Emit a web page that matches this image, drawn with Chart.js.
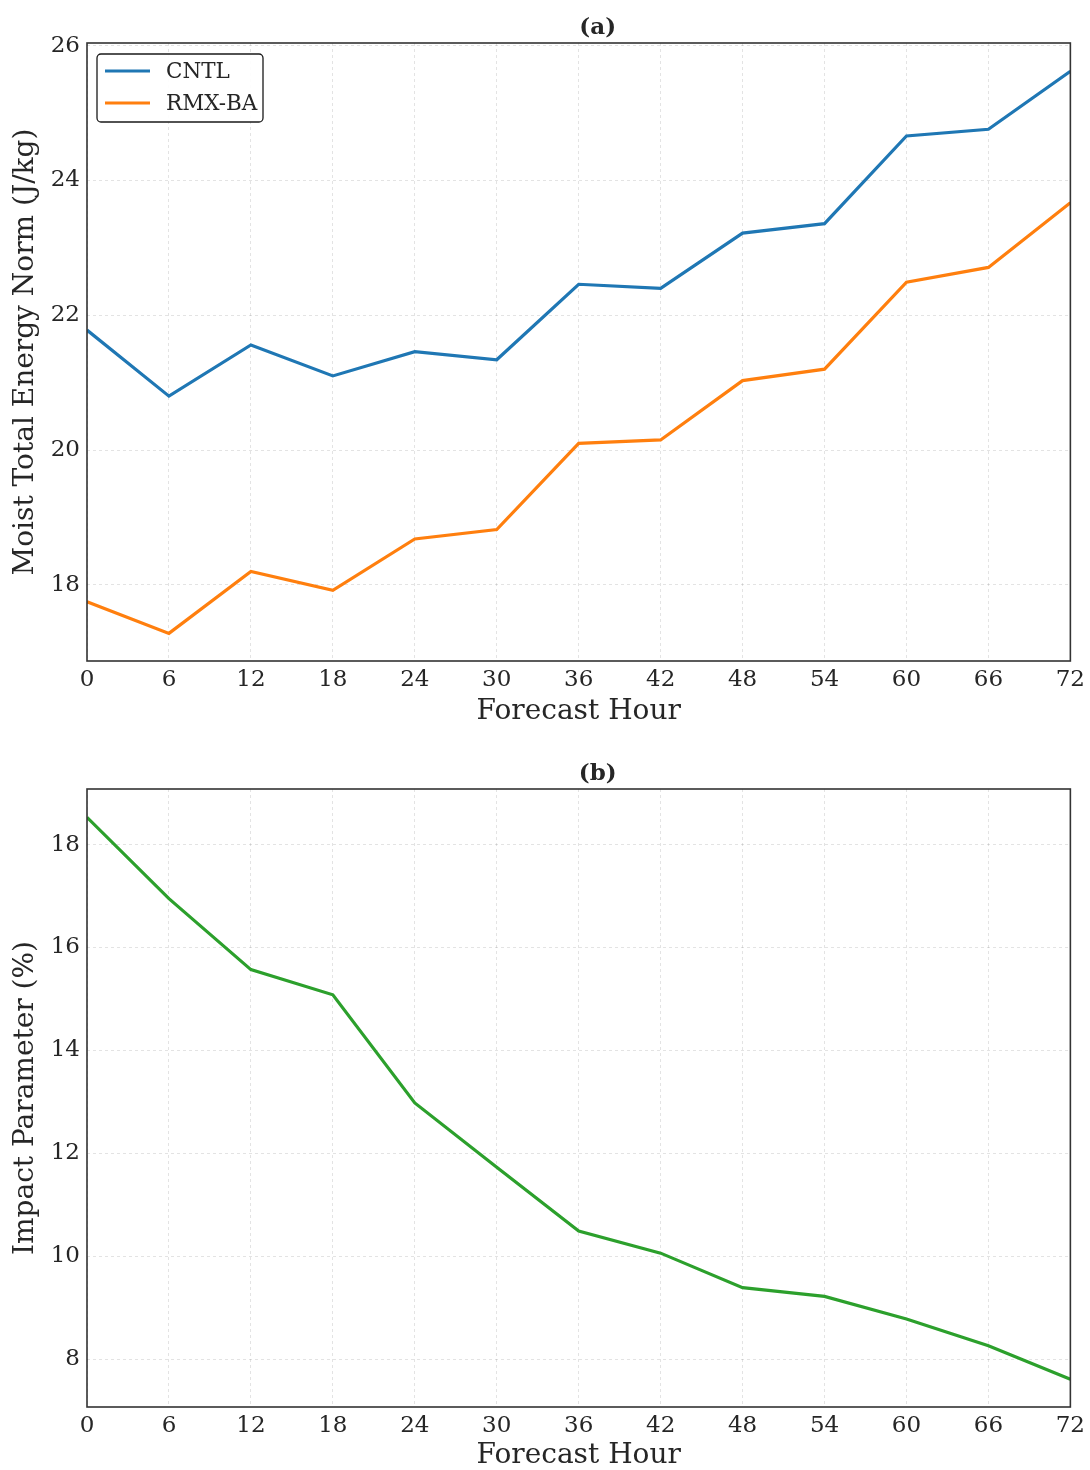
<!DOCTYPE html>
<html>
<head>
<meta charset="utf-8">
<script src="https://cdn.jsdelivr.net/npm/chart.js@4/dist/chart.umd.min.js"></script>
<style>
  html, body { margin: 0; padding: 0; background: #fff; overflow: hidden; }
  .wrap { position: absolute; left: 0; width: 1090px; }
  canvas { display: block; }
</style>
</head>
<body>
<div class="wrap" style="top:0;height:735px"><canvas id="ca" width="1090" height="735"></canvas></div>
<div class="wrap" style="top:735px;height:735px"><canvas id="cb" width="1090" height="735"></canvas></div>
<script>
// ---- data ----
const hours = [0, 6, 12, 18, 24, 30, 36, 42, 48, 54, 60, 66, 72];
const cntl = [21.78, 20.80, 21.56, 21.10, 21.46, 21.34, 22.46, 22.40, 23.22, 23.36, 24.66, 24.76, 25.62];
const rmxba = [17.75, 17.28, 18.20, 17.92, 18.68, 18.82, 20.10, 20.15, 21.03, 21.20, 22.49, 22.71, 23.67];
const impact = [18.53, 16.95, 15.57, 15.08, 12.98, 11.73, 10.49, 10.06, 9.39, 9.22, 8.78, 8.26, 7.61];
const seriesNames = ['CNTL', 'RMX-BA', 'Impact'];
const panelTitles = ['(a)', '(b)'];
const xTitle = 'Forecast Hour';
const yTitles = ['Moist Total Energy Norm (J/kg)', 'Impact Parameter (%)'];

const FONT = "'DejaVu Serif', 'Liberation Serif', serif";
const TXT = '#262626';

function pts(vals) { return hours.map((h, i) => ({ x: h, y: vals[i] })); }

const framePlugin = {
  id: 'frame',
  afterDraw(chart, args, opts) {
    const { ctx, chartArea: a } = chart;
    ctx.save();
    // axes box
    ctx.strokeStyle = '#333333';
    ctx.lineWidth = 1.6;
    ctx.strokeRect(a.left, a.top, a.right - a.left, a.bottom - a.top);
    // panel title
    ctx.fillStyle = TXT;
    ctx.font = "bold 23px " + FONT;
    ctx.textAlign = 'center';
    ctx.textBaseline = 'middle';
    ctx.fillText(opts.title, (a.left + a.right) / 2 + 19, a.top - 15);
    // legend
    if (opts.legend) {
      const ds = chart.data.datasets;
      const bx = a.left + 10, by = a.top + 11, bw = 166, bh = 68;
      ctx.beginPath();
      ctx.roundRect(bx, by, bw, bh, 4);
      ctx.fillStyle = 'rgba(255,255,255,0.9)';
      ctx.fill();
      ctx.strokeStyle = '#1a1a1a';
      ctx.lineWidth = 1.3;
      ctx.stroke();
      ctx.font = "21.5px " + FONT;
      ctx.textAlign = 'left';
      ds.forEach((d, i) => {
        const y = by + 17 + i * 32;
        ctx.strokeStyle = d.borderColor;
        ctx.lineWidth = 3.2;
        ctx.beginPath();
        ctx.moveTo(bx + 8, y);
        ctx.lineTo(bx + 53, y);
        ctx.stroke();
        ctx.fillStyle = TXT;
        ctx.fillText(d.label, bx + 69, y + 1);
      });
    }
    ctx.restore();
  }
};

function makeChart(id, datasets, yMin, yMax, yTitle, title, legend, padTop, padBottom, xHeight) {
  return new Chart(document.getElementById(id), {
    type: 'line',
    data: { datasets },
    options: {
      responsive: false,
      animation: false,
      events: [],
      layout: { padding: { top: padTop, bottom: padBottom, left: 0, right: 19 } },
      plugins: {
        legend: { display: false },
        tooltip: { enabled: false },
        title: { display: false },
        frame: { title, legend }
      },
      elements: { point: { radius: 0 }, line: { tension: 0, borderWidth: 3.2 } },
      scales: {
        x: {
          type: 'linear', min: 0, max: 72,
          border: { display: false, dash: [3, 3] },
          grid: { color: 'rgba(0,0,0,0.11)', lineWidth: 1, drawTicks: false },
          ticks: { stepSize: 6, autoSkip: false, maxRotation: 0, padding: 5,
                   color: TXT, font: { family: FONT, size: 23 } },
          title: { display: true, text: xTitle, color: TXT, padding: 0,
                   font: { family: FONT, size: 28, lineHeight: 1 } },
          afterFit(s) { s.height = xHeight; }
        },
        y: {
          type: 'linear', min: yMin, max: yMax,
          border: { display: false, dash: [3, 3] },
          grid: { color: 'rgba(0,0,0,0.11)', lineWidth: 1, drawTicks: false },
          ticks: { stepSize: 2, includeBounds: false, padding: 7,
                   color: TXT, font: { family: FONT, size: 23 } },
          title: { display: true, text: yTitle, color: TXT, padding: { top: 12, bottom: 0 },
                   font: { family: FONT, size: 28, lineHeight: 1 } },
          afterFit(s) { s.width = 87; }
        }
      }
    },
    plugins: [framePlugin]
  });
}

makeChart('ca', [
  { label: seriesNames[0], data: pts(cntl), borderColor: '#1f77b4', backgroundColor: '#1f77b4' },
  { label: seriesNames[1], data: pts(rmxba), borderColor: '#ff7f0e', backgroundColor: '#ff7f0e' }
], 16.87, 26.04, yTitles[0], panelTitles[0], true, 43, 9, 65);

makeChart('cb', [
  { label: seriesNames[2], data: pts(impact), borderColor: '#2ca02c', backgroundColor: '#2ca02c' }
], 7.07, 19.08, yTitles[1], panelTitles[1], false, 54, 0, 63);
</script>
</body>
</html>
